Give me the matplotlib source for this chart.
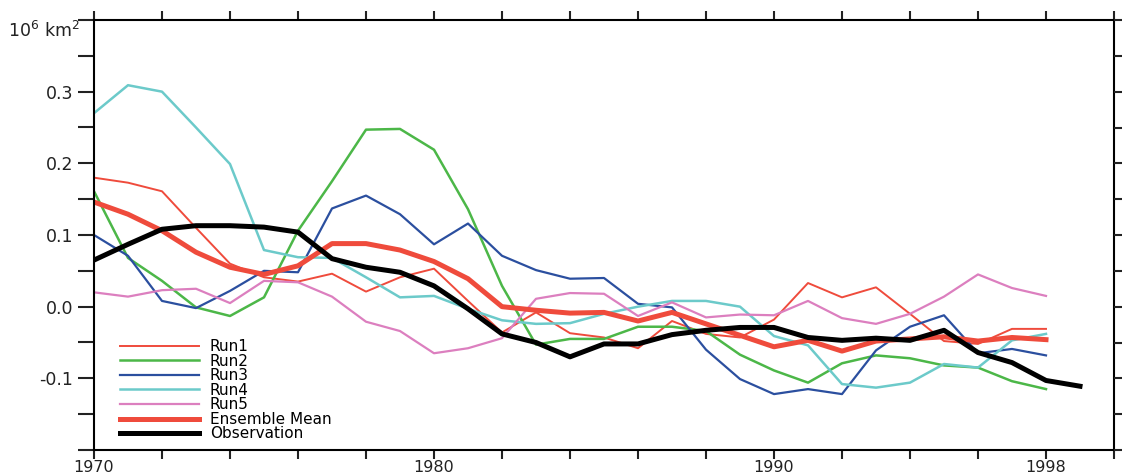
import matplotlib
matplotlib.use("Agg")
import matplotlib.pyplot as plt
import numpy as np
from matplotlib.ticker import MultipleLocator, FuncFormatter

years_run = np.arange(1970, 1999)
years_obs = np.arange(1970, 2000)

run1 = [0.180, 0.173, 0.161, 0.110, 0.060, 0.041, 0.035, 0.046, 0.021, 0.041,
        0.053, 0.008, -0.036, -0.008, -0.037, -0.043, -0.058, -0.020, -0.038, -0.043,
        -0.018, 0.033, 0.013, 0.027, -0.010, -0.048, -0.052, -0.031, -0.031]
run2 = [0.161, 0.068, 0.036, -0.001, -0.013, 0.013, 0.106, 0.175, 0.247, 0.248,
        0.219, 0.136, 0.029, -0.053, -0.045, -0.045, -0.028, -0.028, -0.034, -0.067,
        -0.089, -0.106, -0.079, -0.068, -0.072, -0.082, -0.085, -0.104, -0.115]
run3 = [0.100, 0.071, 0.008, -0.002, 0.022, 0.050, 0.048, 0.137, 0.155, 0.129,
        0.087, 0.116, 0.071, 0.051, 0.039, 0.040, 0.004, -0.001, -0.060, -0.101,
        -0.122, -0.115, -0.122, -0.061, -0.028, -0.012, -0.065, -0.059, -0.068]
run4 = [0.270, 0.309, 0.300, 0.250, 0.199, 0.079, 0.069, 0.068, 0.041, 0.013,
        0.015, -0.003, -0.019, -0.024, -0.023, -0.010, 0.000, 0.008, 0.008, 0.000,
        -0.041, -0.054, -0.108, -0.113, -0.106, -0.080, -0.085, -0.047, -0.038]
run5 = [0.020, 0.014, 0.023, 0.025, 0.005, 0.036, 0.034, 0.014, -0.021, -0.034,
        -0.065, -0.058, -0.044, 0.011, 0.019, 0.018, -0.013, 0.006, -0.015, -0.011,
        -0.012, 0.008, -0.016, -0.024, -0.010, 0.014, 0.045, 0.026, 0.015]
ens_mean = [0.146, 0.129, 0.106, 0.076, 0.055, 0.045, 0.057, 0.088, 0.088, 0.079,
            0.063, 0.039, 0.000, -0.005, -0.009, -0.008, -0.020, -0.008, -0.024, -0.040,
            -0.056, -0.047, -0.062, -0.048, -0.045, -0.042, -0.048, -0.043, -0.046]
obs = [0.065, 0.087, 0.108, 0.113, 0.113, 0.111, 0.104, 0.067, 0.055, 0.048,
       0.029, -0.003, -0.038, -0.050, -0.070, -0.052, -0.052, -0.039, -0.033, -0.029,
       -0.029, -0.043, -0.047, -0.044, -0.047, -0.033, -0.064, -0.078, -0.103, -0.111]

labeled_years = [1970, 1980, 1990, 1998]
labeled_vals = [-0.1, 0.0, 0.1, 0.2, 0.3]

plt.rcParams['font.family'] = ['DejaVu Sans']

fig = plt.figure(figsize=(11.22, 4.74), dpi=100)
ax = fig.add_axes([94 / 1122, 24 / 474, 1020 / 1122, 430 / 474])

ax.plot(years_run, run1, color='#ef4b3c', lw=1.4, label='Run1')
ax.plot(years_run, run2, color='#4cb748', lw=1.8, label='Run2')
ax.plot(years_run, run3, color='#2b4f9f', lw=1.6, label='Run3')
ax.plot(years_run, run4, color='#6ccaca', lw=1.8, label='Run4')
ax.plot(years_run, run5, color='#dc7fbf', lw=1.6, label='Run5')
ax.plot(years_run, ens_mean, color='#ef4b3c', lw=3.6, label='Ensemble Mean')
ax.plot(years_obs, obs, color='black', lw=3.6, label='Observation')

ax.set_xlim(1970, 2000)
ax.set_ylim(-0.2, 0.4)

ax.xaxis.set_major_locator(MultipleLocator(2))
ax.yaxis.set_major_locator(MultipleLocator(0.05))
ax.xaxis.set_major_formatter(FuncFormatter(
    lambda v, p: str(int(round(v))) if int(round(v)) in labeled_years else ''))
ax.yaxis.set_major_formatter(FuncFormatter(
    lambda v, p: '%.1f' % v if any(abs(v - t) < 1e-6 for t in labeled_vals) else ''))

for s in ax.spines.values():
    s.set_linewidth(1.5)

ax.tick_params(axis='y', direction='out', length=11.5, width=1.5,
               labelsize=12.5, pad=3.5, colors='#222222')
ax.tick_params(axis='x', direction='out', length=6.5, width=1.5,
               labelsize=11.5, pad=1, top=True, colors='#222222')

# short outward ticks on the right side
ax_r = ax.twinx()
ax_r.set_ylim(ax.get_ylim())
ax_r.yaxis.set_major_locator(MultipleLocator(0.05))
ax_r.tick_params(axis='y', direction='out', length=6, width=1.5, labelright=False,
                 colors='#222222')
for s in ax_r.spines.values():
    s.set_visible(False)

fig.text(8 / 1122, 1 - 31 / 474, r'10$^6$ km$^2$', fontsize=12.5, ha='left',
         va='center', color='#222222')

ax.legend(loc='lower left', bbox_to_anchor=(0.025, 0.02), frameon=False,
          fontsize=11, handlelength=5.2, handletextpad=0.7, labelspacing=-0.03,
          borderpad=0, borderaxespad=0)

fig.savefig('out.png', dpi=100)
